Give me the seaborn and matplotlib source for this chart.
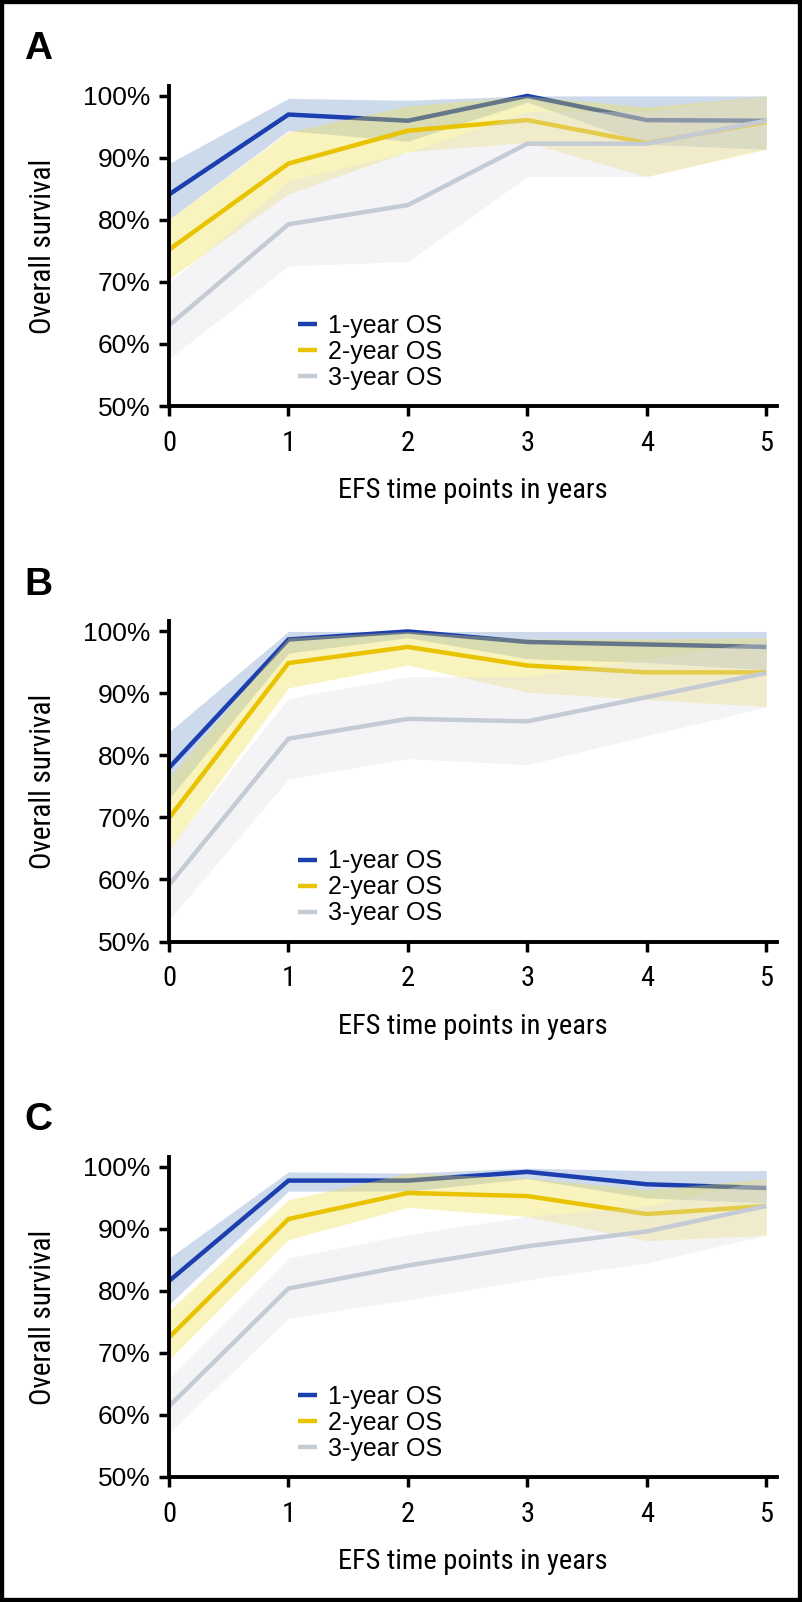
import os
import matplotlib
matplotlib.use("Agg")
import matplotlib.pyplot as plt
import seaborn as sns
from matplotlib import font_manager
from matplotlib.font_manager import FontProperties
from matplotlib.patches import Rectangle

sns.set_style("ticks")
available = {f.name for f in font_manager.fontManager.ttflist}
REG = "Liberation Sans" if "Liberation Sans" in available else "DejaVu Sans"
plt.rcParams["font.family"] = [REG, "DejaVu Sans"]


def find_condensed():
    """Pick an installed condensed / narrow sans-serif regular face."""
    prefs = ["liberation sans narrow", "liberationsansnarrow", "arial narrow",
             "nimbus sans narrow", "roboto condensed", "robotocondensed",
             "noto sans condensed", "notosans-condensed", "open sans condensed",
             "opensans_condensed", "opensanscondensed", "dejavu sans condensed",
             "dejavusanscondensed"]
    best = None
    for f in font_manager.fontManager.ttflist:
        fn = os.path.basename(f.fname).lower()
        nm = f.name.lower()
        key = fn + " " + nm
        if "mono" in key or "italic" in key or "oblique" in key:
            continue
        if f.style != "normal":
            continue
        w = f.weight
        if isinstance(w, str):
            if w not in ("normal", "regular", "book", "400"):
                continue
        elif w not in (400,):
            continue
        if any(b in fn for b in ("bold", "light", "thin", "black", "medium", "semibold", "extrabold")):
            continue
        st = str(f.stretch).lower()
        is_cond = ("narrow" in key or "condensed" in key or
                   st in ("condensed", "semi-condensed", "extra-condensed", "ultra-condensed") or
                   (st.isdigit() and int(st) < 100))
        if not is_cond:
            continue
        score = 100
        for i, p in enumerate(prefs):
            if p in key or p in fn.replace("-", "").replace("_", ""):
                score = i
                break
        if "semi" in key or "extra" in key or "ultra" in key:
            score += 50
        if best is None or score < best[0]:
            best = (score, f.fname)
    return best[1] if best else None


COND_PATH = find_condensed()


def cond_fp(size):
    if COND_PATH:
        return FontProperties(fname=COND_PATH, size=size)
    return FontProperties(family=[REG, "DejaVu Sans"], size=size * 0.88)


# ---------------- data ----------------
years = [0, 1, 2, 3, 4, 5]
series_names = ["1-year OS", "2-year OS", "3-year OS"]
panel_letters = ["A", "B", "C"]
ytick_values = [50, 60, 70, 80, 90, 100]
ytick_labels = ["50%", "60%", "70%", "80%", "90%", "100%"]

# Panel A
a_os1 = [84.1, 97.0, 96.0, 100.0, 96.1, 96.0]
a_os1_lo = [80.1, 94.4, 92.7, 99.0, 92.2, 91.4]
a_os1_hi = [89.1, 99.6, 99.3, 100.0, 100.0, 100.0]
a_os2 = [75.2, 89.1, 94.4, 96.1, 92.4, 95.8]
a_os2_lo = [70.5, 84.2, 91.0, 92.5, 87.0, 91.4]
a_os2_hi = [80.1, 94.2, 98.4, 100.0, 98.2, 100.0]
a_os3 = [63.0, 79.3, 82.4, 92.3, 92.3, 96.0]
a_os3_lo = [57.6, 72.6, 73.3, 87.0, 87.0, 91.6]
a_os3_hi = [69.8, 86.3, 90.9, 97.5, 97.5, 100.0]

# Panel B
b_os1 = [78.0, 98.7, 100.0, 98.3, 97.9, 97.5]
b_os1_lo = [73.0, 96.5, 99.0, 95.6, 95.0, 93.8]
b_os1_hi = [83.8, 100.0, 100.0, 100.0, 100.0, 100.0]
b_os2 = [69.9, 94.9, 97.5, 94.5, 93.4, 93.4]
b_os2_lo = [64.7, 90.9, 94.6, 90.2, 89.0, 87.9]
b_os2_hi = [76.4, 99.0, 100.0, 98.8, 98.8, 99.0]
b_os3 = [59.1, 82.7, 85.9, 85.5, 89.4, 93.3]
b_os3_lo = [53.5, 76.2, 79.5, 78.5, 83.2, 87.8]
b_os3_hi = [65.0, 89.2, 92.7, 92.7, 95.5, 98.5]

# Panel C
c_os1 = [81.6, 97.8, 97.8, 99.2, 97.2, 96.6]
c_os1_lo = [77.8, 96.1, 96.1, 98.1, 95.0, 94.2]
c_os1_hi = [85.3, 99.2, 99.0, 99.8, 99.4, 99.4]
c_os2 = [72.5, 91.6, 95.8, 95.3, 92.4, 93.7]
c_os2_lo = [68.9, 88.3, 93.5, 92.0, 88.1, 89.0]
c_os2_hi = [76.8, 94.7, 99.0, 98.2, 96.3, 98.1]
c_os3 = [61.4, 80.4, 84.1, 87.2, 89.6, 93.7]
c_os3_lo = [57.1, 75.6, 78.6, 81.8, 84.5, 89.0]
c_os3_hi = [66.0, 85.3, 89.1, 92.0, 93.7, 98.0]

panels = [
    [(a_os1, a_os1_lo, a_os1_hi), (a_os2, a_os2_lo, a_os2_hi), (a_os3, a_os3_lo, a_os3_hi)],
    [(b_os1, b_os1_lo, b_os1_hi), (b_os2, b_os2_lo, b_os2_hi), (b_os3, b_os3_lo, b_os3_hi)],
    [(c_os1, c_os1_lo, c_os1_hi), (c_os2, c_os2_lo, c_os2_hi), (c_os3, c_os3_lo, c_os3_hi)],
]

# ---------------- styles ----------------
line_colors = ["#1b3fae", "#e9c300", "#c5cbd5"]
band_colors = ["#7095c8", "#f0df45", "#dddde9"]
band_alphas = [0.35, 0.35, 0.32]

W, H = 802, 1602
fig = plt.figure(figsize=(W / 100, H / 100), dpi=100)
fig.patch.set_facecolor("white")

ax_left_px, ax_right_px = 169, 777
ax_top_px, ax_bot_px = 86, 406
panel_step = 535.5

for p, (letter, data) in enumerate(zip(panel_letters, panels)):
    top = ax_top_px + p * panel_step
    bot = ax_bot_px + p * panel_step
    rect = [ax_left_px / W, 1 - bot / H, (ax_right_px - ax_left_px) / W, (bot - top) / H]
    ax = fig.add_axes(rect)
    ax.set_facecolor("white")

    handles = []
    for i, (mean, lo, hi) in enumerate(data):
        z = 2 * i + 1
        ax.fill_between(years, lo, hi, color=band_colors[i], alpha=band_alphas[i],
                        linewidth=0, zorder=z)
        sns.lineplot(x=years, y=mean, ax=ax, color=line_colors[i], lw=3.2,
                     errorbar=None, legend=False, zorder=z + 1,
                     solid_capstyle="butt", solid_joinstyle="miter")
        handles.append(ax.get_lines()[-1])

    ax.set_xlim(0, 5.09)
    ax.set_ylim(50, 101.6)
    ax.set_xticks(years)
    ax.set_xticklabels([str(y) for y in years])
    ax.set_yticks(ytick_values)
    ax.set_yticklabels(ytick_labels)

    for s in ["top", "right"]:
        ax.spines[s].set_visible(False)
    for s in ["left", "bottom"]:
        ax.spines[s].set_linewidth(2.8)
        ax.spines[s].set_color("black")
        ax.spines[s].set_zorder(10)

    ax.tick_params(axis="both", direction="out", length=7, width=2.5, color="black",
                   labelcolor="black")
    ax.tick_params(axis="x", pad=10.0)
    ax.tick_params(axis="y", pad=6.5, labelsize=19)
    for lbl in ax.get_xticklabels():
        lbl.set_fontproperties(cond_fp(20.5))
    for lbl in ax.get_yticklabels():
        lbl.set_family([REG, "DejaVu Sans"])
        lbl.set_fontsize(19)

    ax.set_ylabel("Overall survival", fontproperties=cond_fp(21), va="center",
                  color="black")
    ax.yaxis.set_label_coords(-0.207, 0.5)
    ax.set_xlabel("EFS time points in years", fontproperties=cond_fp(20.5),
                  color="black")
    ax.xaxis.set_label_coords(0.5, -0.222)

    leg = ax.legend(handles=handles, labels=series_names, loc="center left",
                    bbox_to_anchor=(0.212, 0.169), frameon=False, borderpad=0,
                    borderaxespad=0, handlelength=0.75, handletextpad=0.45,
                    labelspacing=0.08, prop={"family": REG, "size": 18})
    for t in leg.get_texts():
        t.set_color("black")

    # panel letter
    base_y = 59 + p * panel_step
    fig.text(38 / W, 1 - base_y / H, letter, ha="center", va="baseline",
             fontsize=28, fontweight="bold", family=[REG, "DejaVu Sans"], color="black")

fig.add_artist(Rectangle((0, 0), 1, 1, transform=fig.transFigure, fill=False,
                         edgecolor="black", linewidth=6, zorder=100))

fig.savefig("out.png", dpi=100, facecolor="white")
